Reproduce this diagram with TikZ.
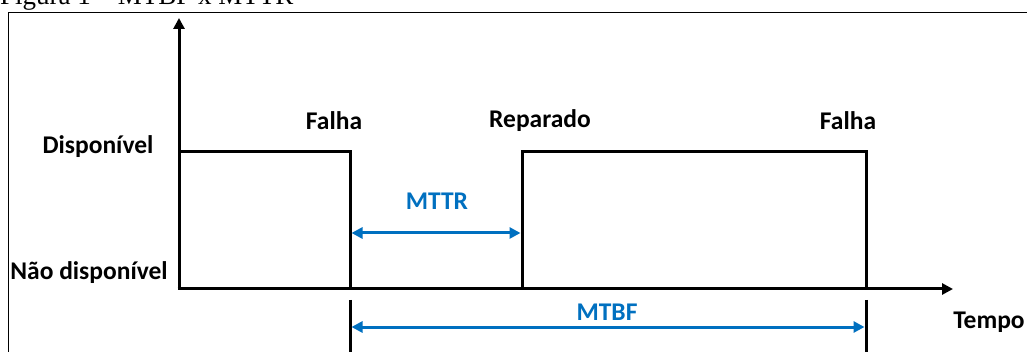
\documentclass[tikz,border=0pt]{standalone}
\usepackage{fontspec}
\setmainfont{Carlito}
\newfontfamily\titlefont{Liberation Serif}
\usetikzlibrary{arrows.meta}
\definecolor{mblue}{HTML}{0070C0}
\tikzset{
  lbl/.style={font=\bfseries\fontsize{25.5}{28}\selectfont, inner sep=0pt},
  bluelbl/.style={lbl, text=mblue},
  sig/.style={line width=3pt, line join=miter},
  axis/.style={line width=3pt, -{Triangle[length=11pt,width=11pt]}},
  span/.style={line width=3pt, draw=mblue, {Triangle[length=11pt,width=11pt]}-{Triangle[length=11pt,width=11pt]}},
  tick/.style={line width=3pt},
}
\begin{document}
\begin{tikzpicture}[x=1pt,y=-1pt]
\useasboundingbox (0,0) rectangle (1027,352);
\fill[white] (0,0) rectangle (1027,352);
% title (clipped at the top, as in the reference)
\node[anchor=base west, inner sep=0pt, font=\titlefont\fontsize{27}{30}\selectfont] (title) at (0,5) {Figura 1 – MTBF x MTTR};
% frame
\draw[line width=1.5pt] (8.5,360) -- (8.5,12.5) -- (1040,12.5);
% coordinates
\coordinate (o) at (179,289);
\coordinate (ytop) at (179,18);
\coordinate (xend) at (953,289);
\coordinate (a) at (179,152);
\coordinate (b) at (350,152);
\coordinate (c) at (350,289);
\coordinate (d) at (522,289);
\coordinate (e) at (522,152);
\coordinate (f) at (866,152);
\coordinate (g) at (866,289);
% signal
\draw[sig] (a) -- (b) -- (c);
\draw[sig] (d) -- (e) -- (f) -- (g);
% axes
\draw[axis] (o) -- (ytop);
\draw[axis] ([xshift=-1.5pt]o) -- (xend);
% ticks below axis
\coordinate (t1a) at (350,300);
\coordinate (t1b) at (350,360);
\coordinate (t2a) at (866,300);
\coordinate (t2b) at (866,360);
\draw[tick] (t1a) -- (t1b);
\draw[tick] (t2a) -- (t2b);
% spans
\coordinate (m1) at (351.5,233);
\coordinate (m2) at (520.5,233);
\coordinate (n1) at (351.5,327);
\coordinate (n2) at (864.5,327);
\draw[span] (m1) -- (m2);
\draw[span] (n1) -- (n2);
% labels
\node[lbl] (disp) at (98,147) {Disponível};
\node[lbl] (ndisp) at (89,273) {Não disponível};
\node[lbl] (f1) at (334,121) {Falha};
\node[lbl] (rep) at (540,121) {Reparado};
\node[lbl] (f2) at (848,121) {Falha};
\node[bluelbl] (mttr) at (437,201) {MTTR};
\node[bluelbl] (mtbf) at (607,312) {MTBF};
\node[lbl] (tempo) at (989,322) {Tempo};
\end{tikzpicture}
\end{document}
